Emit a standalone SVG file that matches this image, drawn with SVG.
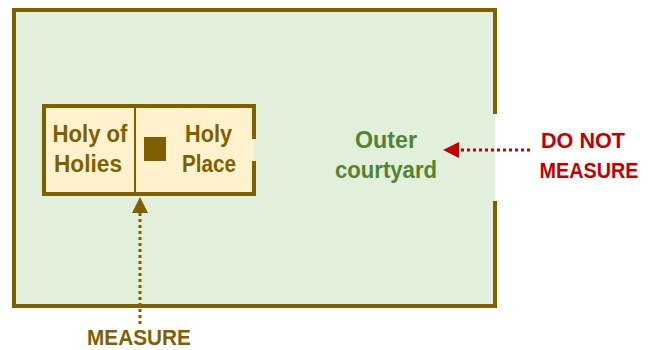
<svg xmlns="http://www.w3.org/2000/svg" width="653" height="350" viewBox="0 0 653 350">
<defs>
<style>
.wall{fill:none;stroke:#7f6000;stroke-width:4;stroke-linecap:square}
.t{font-family:"Liberation Sans",Arial,sans-serif;font-weight:bold;font-size:23px;text-anchor:middle}
.brown{fill:#7f6000}
.green{fill:#548235}
.red{fill:#c00000;font-size:22.5px}
.dot{fill:none;stroke-width:3;stroke-dasharray:3 3}
</style>
<marker id="ahBrown" viewBox="0 0 16 16" refX="0" refY="8" markerWidth="16" markerHeight="16" markerUnits="userSpaceOnUse" orient="auto">
<path d="M0,0 L16,8 L0,16 z" fill="#7f6000"/>
</marker>
<marker id="ahRed" viewBox="0 0 16 16" refX="0" refY="8" markerWidth="16" markerHeight="16" markerUnits="userSpaceOnUse" orient="auto">
<path d="M0,0 L16,8 L0,16 z" fill="#c00000"/>
</marker>
</defs>
<rect width="653" height="350" fill="#ffffff"/>
<g id="outer-courtyard">
<rect x="14" y="10" width="481" height="296" fill="#e2efda"/>
<path class="wall" d="M495,112 V10 H14 V306 H495 V203"/>
<text class="t green" x="386" y="148" textLength="62" lengthAdjust="spacingAndGlyphs">Outer</text>
<text class="t green" x="386" y="178" textLength="102" lengthAdjust="spacingAndGlyphs">courtyard</text>
</g>
<g id="temple">
<rect x="44" y="106" width="210" height="88" fill="#fff2cc"/>
<path class="wall" d="M254,137 V106 H44 V194 H254 V163"/>
<line x1="135" y1="107" x2="135" y2="193" stroke="#7f6000" stroke-width="2"/>
</g>
<g id="holy-of-holies">
<text class="t brown" x="90" y="142" textLength="75" lengthAdjust="spacingAndGlyphs">Holy of</text>
<text class="t brown" x="88" y="172" textLength="68" lengthAdjust="spacingAndGlyphs">Holies</text>
</g>
<g id="holy-place">
<rect x="144" y="137" width="22" height="24" fill="#7f6000"/>
<text class="t brown" x="208.5" y="142" textLength="47" lengthAdjust="spacingAndGlyphs">Holy</text>
<text class="t brown" x="209" y="172" textLength="54" lengthAdjust="spacingAndGlyphs">Place</text>
</g>
<g id="measure-label">
<text class="t brown" x="139" y="345" style="font-size:22px" textLength="104" lengthAdjust="spacingAndGlyphs">MEASURE</text>
</g>
<g id="do-not-measure-label">
<text class="t red" x="583" y="148" textLength="84" lengthAdjust="spacingAndGlyphs">DO NOT</text>
<text class="t red" x="589" y="178" textLength="99" lengthAdjust="spacingAndGlyphs">MEASURE</text>
</g>
<g id="connectors">
<line class="dot" x1="140" y1="324" x2="140" y2="213" stroke="#7f6000" marker-end="url(#ahBrown)"/>
<line class="dot" x1="530" y1="150" x2="459" y2="150" stroke="#c00000" marker-end="url(#ahRed)"/>
</g>
</svg>
